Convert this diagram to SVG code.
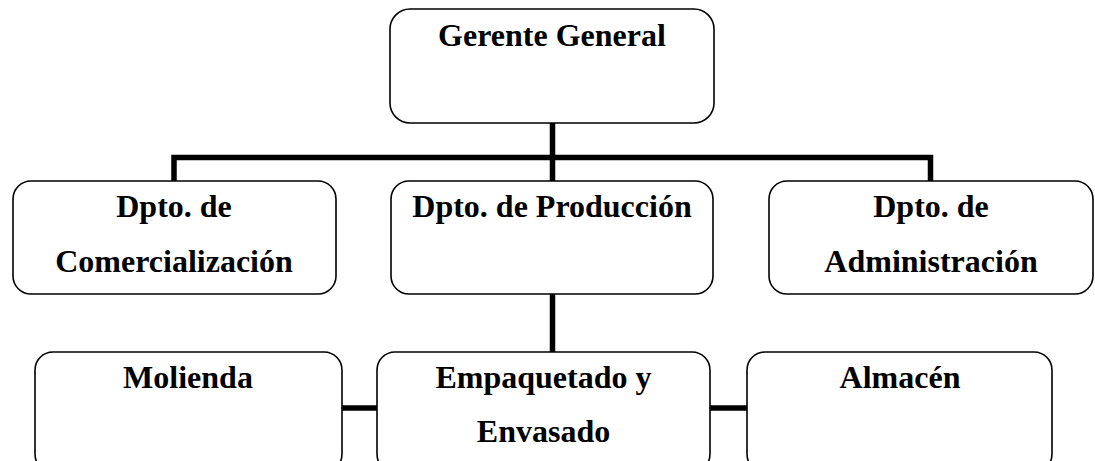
<svg xmlns="http://www.w3.org/2000/svg" width="1095" height="461" viewBox="0 0 1095 461">
<style>
.box{fill:#fff;stroke:#000;stroke-width:1.6}
.t{font-family:"Liberation Serif","Times New Roman",serif;font-weight:bold;font-size:32px;fill:#000;text-anchor:middle}
.c{fill:none;stroke:#000;stroke-width:5.5}
</style>
<rect width="1095" height="461" fill="#fff"/>
<g id="connectors">
<path class="c" d="M552.5 123V181M174 183V157.5H930.5V183"/>
<path class="c" d="M552.5 294V352"/>
<path class="c" d="M342 408H377M710 408H747"/>
</g>
<g id="gerente"><rect class="box" x="390" y="9" width="324" height="114" rx="20"/><text class="t" x="552" y="46">Gerente General</text></g>
<g id="comercializacion"><rect class="box" x="13" y="181" width="323" height="113" rx="18"/><text class="t" x="174" y="217">Dpto. de</text><text class="t" x="174" y="272">Comercialización</text></g>
<g id="produccion"><rect class="box" x="391" y="181" width="322" height="113" rx="18"/><text class="t" x="552" y="217">Dpto. de Producción</text></g>
<g id="administracion"><rect class="box" x="769" y="181" width="324" height="113" rx="18"/><text class="t" x="931" y="217">Dpto. de</text><text class="t" x="931" y="272">Administración</text></g>
<g id="molienda"><rect class="box" x="35" y="352" width="307" height="120" rx="18"/><text class="t" x="188" y="388">Molienda</text></g>
<g id="empaquetado"><rect class="box" x="377" y="352" width="333" height="120" rx="18"/><text class="t" x="543.5" y="388">Empaquetado y</text><text class="t" x="543.5" y="442">Envasado</text></g>
<g id="almacen"><rect class="box" x="747" y="352" width="305" height="120" rx="18"/><text class="t" x="900" y="388">Almacén</text></g>
</svg>
